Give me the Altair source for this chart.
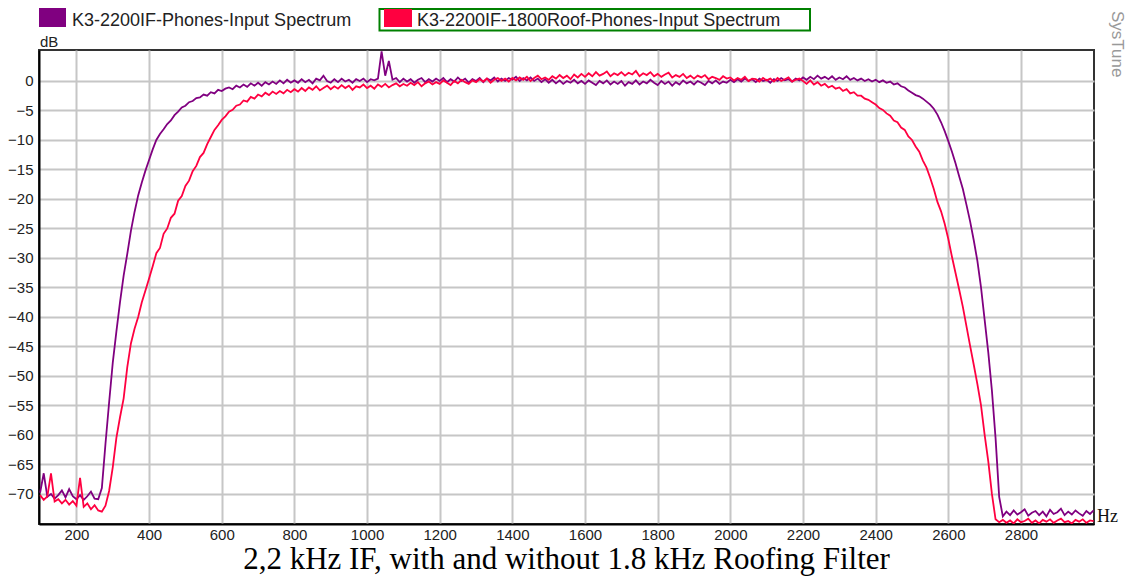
import altair as alt
import pandas as pd

# ---------------- data ----------------
FREQ = list(range(100, 3001, 10))  # Hz, one sample every 10 Hz

PURPLE = [
    -69.8, -66.5, -70.5, -70.0, -70.8, -70.2, -69.4, -70.6, -69.2, -70.4,
    -70.9, -70.2, -71.0, -70.4, -69.6, -70.8, -70.9, -69.0, -61.5, -54.5,
    -47.8, -42.5, -37.5, -33.0, -29.3, -25.4, -22.2, -19.4, -17.2, -15.2,
    -13.4, -11.6, -10.0, -9.0, -8.2, -7.3, -6.7, -5.8, -5.2, -4.5,
    -4.2, -3.6, -3.4, -2.9, -2.8, -2.3, -2.5, -1.9, -2.1, -1.5,
    -1.7, -1.3, -1.1, -1.4, -0.8, -1.1, -0.6, -1.0, -0.4, -0.8,
    -0.3, -0.8, -0.2, -0.6, -0.1, -0.5, 0.1, -0.4, 0.2, -0.3,
    0.1, -0.3, 0.3, -0.2, 0.2, -0.4, 0.4, 0.1, 0.9, 0.0,
    -0.3, 0.3, -0.2, 0.4, -0.1, 0.2, -0.3, 0.3, 0.0, 0.4,
    -0.2, 0.3, 0.1, 0.4, 5.0, 0.9, 3.4, 0.2, 0.5, -0.2,
    0.4, -0.1, 0.3, -0.3, 0.2, 0.5, -0.2, 0.3, -0.1, 0.4,
    0.0, 0.5, -0.2, 0.3, -0.1, 0.6, 0.0, 0.4, -0.3, 0.3,
    0.0, 0.5, -0.2, 0.4, 0.1, 0.6, -0.1, 0.4, 0.0, 0.5,
    0.2, 0.7, 0.0, 0.5, 0.1, 0.6, 0.0, 0.4, -0.2, 0.3,
    -0.3, 0.2, -0.4, 0.1, -0.5, 0.0, -0.3, 0.2, -0.4, 0.0,
    -0.5, 0.1, -0.3, -0.7, 0.0, -0.4, 0.1, -0.6, -0.1, -0.5,
    0.0, -0.8, -0.2, -0.5, 0.1, -0.6, -0.1, -0.4, 0.2, -0.3,
    -0.7, 0.0, -0.5, -0.1, -0.8, -0.2, -0.6, 0.1, -0.4, -0.1,
    -0.6, 0.0, -0.3, -0.7, 0.0, -0.4, 0.1, -0.5, -0.1, -0.3,
    0.2, -0.2, 0.3, -0.1, 0.4, 0.0, 0.3, -0.2, 0.4, 0.0,
    0.2, -0.3, 0.3, 0.0, 0.5, 0.1, 0.3, -0.1, 0.4, 0.1,
    0.6, 0.2, 0.7, 0.3, 0.9, 0.4, 0.7, 0.3, 0.8, 0.2,
    0.6, 0.3, 0.8, 0.2, 0.5, 0.1, 0.4, 0.0, 0.3, -0.1,
    0.2, -0.2, 0.1, -0.3, -0.1, -0.6, -0.4, -0.9, -1.1, -1.6,
    -2.0, -2.4, -2.6, -3.0, -3.5, -4.0, -4.7, -5.7, -7.0, -8.5,
    -10.2, -12.0, -14.0, -16.2, -18.3, -21.0, -23.8, -27.0, -30.5, -35.0,
    -40.5, -46.0, -52.5, -60.5, -70.5, -73.8, -73.0, -73.6, -72.8, -73.5,
    -73.1, -72.6, -73.7, -73.2, -72.9, -73.6, -73.0, -73.8, -72.7, -73.4,
    -73.1, -72.5, -73.6, -73.0, -73.5, -72.8, -73.3, -73.7, -72.9, -73.4,
    -72.8,
]

RED = [
    -70.2, -71.0, -70.4, -66.5, -71.3, -70.9, -71.6, -71.0, -71.8, -71.2,
    -72.0, -67.3, -72.2, -71.6, -72.6, -71.9, -72.8, -73.0, -72.0, -69.5,
    -65.5, -60.5, -57.0, -53.8, -48.5, -44.5, -42.0, -40.0, -37.5, -35.5,
    -33.5, -31.4, -29.2, -28.3, -25.9, -25.0, -23.2, -22.5, -20.3, -19.5,
    -17.8, -16.9, -15.3, -14.4, -12.9, -12.2, -10.7, -9.5, -8.3, -7.5,
    -6.6, -6.0, -5.2, -4.9, -4.2, -4.0, -3.3, -3.5, -2.7, -3.0,
    -2.3, -2.6, -2.0, -2.4, -1.8, -2.2, -1.7, -2.1, -1.5, -1.9,
    -1.4, -1.8, -1.2, -1.7, -1.1, -1.5, -0.9, -1.6, -1.2, -0.8,
    -1.4, -0.9, -1.3, -0.7, -1.2, -0.8, -1.5, -0.9, -1.1, -0.6,
    -1.2, -0.8, -1.3, -0.6, -1.0, -0.5, -1.1, -0.7, -0.4, -0.9,
    -0.5, -0.8, -0.3, -0.7, -0.2, -0.9, -0.4, -0.1, -0.6, -0.2,
    -0.5, 0.1, -0.3, -0.7, 0.0, -0.4, 0.2, -0.2, -0.5, 0.1,
    -0.2, 0.3, -0.1, 0.4, -0.3, 0.2, 0.5, 0.0, 0.4, -0.1,
    0.5, 0.1, 0.6, 0.2, 0.7, 0.0, 0.5, 0.9, 0.3, 0.6,
    0.2, 0.8, 0.4, 1.0, 0.5, 0.9, 0.3, 1.1, 0.6, 1.2,
    0.7, 1.3, 0.8, 1.5, 0.9, 1.2, 1.6, 0.8, 1.3, 1.0,
    1.5, 0.9, 1.4, 1.1, 1.7, 0.8, 1.3, 1.0, 1.5, 0.8,
    1.2, 0.7, 1.1, 1.4, 0.6, 1.0, 0.7, 1.2, 0.5, 0.9,
    0.4, 0.9, 0.6, 1.0, 0.3, 0.7, 0.5, 0.2, 0.8, 0.4,
    0.6, 0.1, 0.5, 0.2, 0.7, 0.0, 0.4, 0.3, -0.1, 0.5,
    0.1, 0.4, -0.1, 0.5, 0.0, 0.3, 0.6, -0.1, 0.2, 0.4,
    0.0, -0.5, 0.1, -0.6, -0.2, -0.8, -0.5, -1.1, -0.8, -1.3,
    -1.1, -1.7, -1.4, -2.1, -1.9, -2.5, -2.5, -3.0, -3.2, -3.6,
    -4.0, -4.6, -4.9, -5.5, -5.9, -6.7, -7.0, -7.9, -8.3, -9.4,
    -10.0, -11.1, -12.0, -13.5, -14.7, -16.4, -18.3, -20.5, -22.1, -24.2,
    -26.8, -29.8, -32.6, -35.4, -38.3, -41.6, -44.9, -48.1, -51.4, -55.0,
    -60.0, -64.5, -70.0, -74.3, -74.8, -74.4, -74.9, -74.5, -75.0, -74.3,
    -74.8, -74.6, -74.2, -74.9, -74.5, -75.0, -74.4, -74.7, -74.3, -74.9,
    -74.5, -74.2, -74.8, -74.6, -75.0, -74.4, -74.7, -74.3, -74.9, -74.5,
    -74.6,
]

SERIES = ["K3-2200IF-Phones-Input Spectrum", "K3-2200IF-1800Roof-Phones-Input Spectrum"]
COLORS = ["#800080", "#ff0040"]
X_TICKS = [200, 400, 600, 800, 1000, 1200, 1400, 1600, 1800, 2000, 2200, 2400, 2600, 2800]
Y_TICKS = [0, -5, -10, -15, -20, -25, -30, -35, -40, -45, -50, -55, -60, -65, -70]
TITLE = "2,2 kHz IF, with and without 1.8 kHz Roofing Filter"
Y_UNIT = "dB"
X_UNIT = "Hz"
BRAND = "SysTune"

assert len(PURPLE) == len(FREQ) and len(RED) == len(FREQ)

df = pd.DataFrame({
    "f": FREQ + FREQ,
    "db": PURPLE + RED,
    "s": [SERIES[0]] * len(FREQ) + [SERIES[1]] * len(FREQ),
})

W, H = 1055, 474
SANS = "Liberation Sans"
SERIF = "Liberation Serif"

x_enc = alt.X(
    "f:Q",
    scale=alt.Scale(domain=[97, 3001], nice=False, zero=False),
    axis=alt.Axis(values=X_TICKS, title=None, grid=True, ticks=False, tickSize=0,
                  labelPadding=3, labelFlush=False, format="d"),
)
y_enc = alt.Y(
    "db:Q",
    scale=alt.Scale(domain=[-75.1, 5.25], nice=False, zero=False),
    axis=alt.Axis(values=Y_TICKS, title=None, grid=True, ticks=False, tickSize=0,
                  labelPadding=6, labelFlush=False, format="d"),
)
color_enc = alt.Color("s:N", scale=alt.Scale(domain=SERIES, range=COLORS), legend=None)

base = alt.Chart(df)
line_purple = base.transform_filter(alt.datum.s == SERIES[0]).mark_line(
    strokeWidth=1.8, clip=True).encode(x=x_enc, y=y_enc, color=color_enc)
line_red = base.transform_filter(alt.datum.s == SERIES[1]).mark_line(
    strokeWidth=1.8, clip=True).encode(x=x_enc, y=y_enc, color=color_enc)


def one():
    return alt.Chart(alt.Data(values=[{}]))


def label(text, x, y, **kw):
    return one().mark_text(text=text, **kw).encode(x=alt.value(x), y=alt.value(y))


def box(x, x2, y, y2, **kw):
    return one().mark_rect(**kw).encode(
        x=alt.value(x), x2=alt.value(x2), y=alt.value(y), y2=alt.value(y2))


legend_layers = [
    box(0, 27, -42, -23, color=COLORS[0]),
    label(SERIES[0], 33, -24.5, align="left", baseline="alphabetic",
          font=SANS, fontSize=18, color="#222"),
    box(340.5, 771, -41, -19.5, fill="white", stroke="#008000", strokeWidth=2),
    box(345, 373, -41, -23, color=COLORS[1]),
    label(SERIES[1], 378, -24.5, align="left", baseline="alphabetic",
          font=SANS, fontSize=18, color="#222"),
]

annot = [
    label(Y_UNIT, 1, -3.5, align="left", baseline="alphabetic", font=SANS, fontSize=15, color="#222"),
    label(X_UNIT, 1058, 472, align="left", baseline="alphabetic", font=SERIF, fontSize=18, color="#111"),
    label(BRAND, 1078, -39, align="left", baseline="middle", angle=90, font=SANS,
          fontSize=17, color="#999999"),
    label(TITLE, W / 2, 519, align="center", baseline="alphabetic", font=SERIF,
          fontSize=31, color="#000"),
]

chart = alt.layer(line_purple, line_red, *legend_layers, *annot).properties(
    width=W,
    height=H,
    autosize=alt.AutoSizeParams(type="none"),
    padding={"left": 31, "top": 42, "right": 34, "bottom": 53},
    background="white",
).configure_view(
    stroke="#333333", strokeWidth=2
).configure_axis(
    gridColor="#c6c6c6", gridWidth=2, domainColor="#000000", domainWidth=2,
    labelFont=SANS, labelFontSize=15, labelColor="#222222",
)

chart.save("out.html", embed_options={"renderer": "svg", "actions": False})
